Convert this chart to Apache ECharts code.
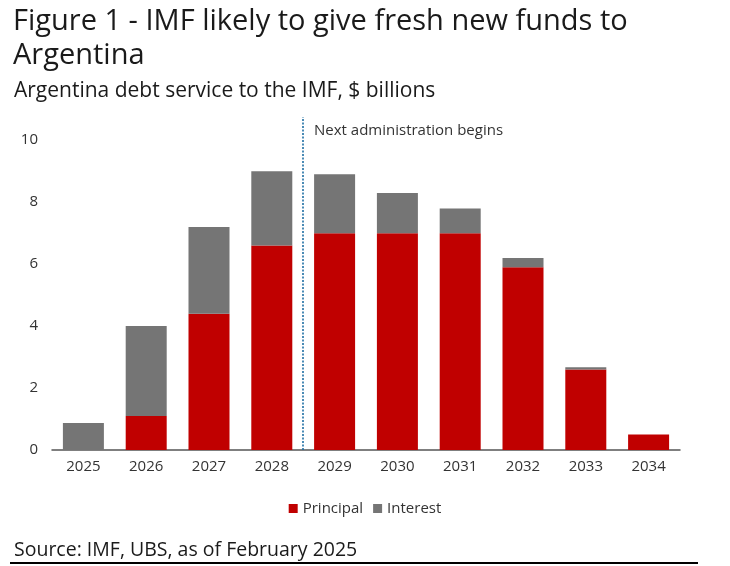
<!DOCTYPE html>
<html>
<head>
<meta charset="utf-8">
<script src="https://cdn.jsdelivr.net/npm/echarts@6/dist/echarts.min.js"></script>
<style>
  html, body { margin: 0; padding: 0; background: #fff; }
  #main { width: 730px; height: 566px; }
</style>
</head>
<body>
<div id="main"></div>
<script>
var years = ['2025', '2026', '2027', '2028', '2029', '2030', '2031', '2032', '2033', '2034'];
var principal = [0, 1.1, 4.4, 6.6, 7.0, 7.0, 7.0, 5.9, 2.6, 0.5];
var interest = [0.87, 2.9, 2.8, 2.4, 1.9, 1.3, 0.8, 0.3, 0.07, 0];
var yTicks = [0, 2, 4, 6, 8, 10];
// boundary between 2028 and 2029, counted in category slots
var adminStart = 4;

var fontFam = '"Open Sans", "Noto Sans", sans-serif';

var myChart = echarts.init(document.getElementById('main'));
var option = {
	animation: false,
	backgroundColor: '#ffffff',
	title: [{
		text: 'Figure 1 - IMF likely to give fresh new funds to\nArgentina',
		left: 8,
		top: 0,
		textStyle: {
			fontFamily: fontFam,
			fontSize: 29,
			fontWeight: 'normal',
			color: '#1a1a1a',
			lineHeight: 34
		}
	}, {
		text: 'Argentina debt service to the IMF, $ billions',
		left: 9,
		top: 76,
		textStyle: {
			fontFamily: fontFam,
			fontSize: 21,
			fontWeight: 'normal',
			color: '#1a1a1a'
		}
	}, {
		text: 'Next administration begins',
		left: 309,
		top: 118,
		textStyle: {
			fontFamily: fontFam,
			fontSize: 15,
			fontWeight: 'normal',
			color: '#333333'
		}
	}, {
		text: 'Source: IMF, UBS, as of February 2025',
		left: 9,
		top: 535,
		textStyle: {
			fontFamily: fontFam,
			fontSize: 19.5,
			fontWeight: 'normal',
			color: '#1a1a1a'
		}
	}],
	graphic: [{
		type: 'line',
		shape: { x1: 10, y1: 563, x2: 698, y2: 563 },
		style: { stroke: '#000000', lineWidth: 2 }
	}],
	legend: {
		data: ['Principal', 'Interest'],
		left: 'center',
		top: 496,
		icon: 'rect',
		itemWidth: 9,
		itemHeight: 9,
		itemGap: 10,
		textStyle: {
			fontFamily: fontFam,
			fontSize: 15,
			color: '#333333'
		}
	},
	grid: {
		left: 52,
		right: 50,
		top: 117,
		bottom: 116,
		containLabel: false
	},
	xAxis: [{
		type: 'category',
		data: years,
		axisLine: { lineStyle: { color: '#555555', width: 1.5 } },
		axisTick: { show: false },
		axisLabel: {
			fontFamily: fontFam,
			fontSize: 15,
			color: '#333333',
			margin: 9
		}
	}, {
		type: 'value',
		min: 0,
		max: years.length,
		show: false
	}],
	yAxis: {
		type: 'value',
		min: 0,
		max: 10.75,
		interval: 2,
		splitLine: { show: false },
		axisLine: { show: false },
		axisTick: { show: false },
		axisLabel: {
			fontFamily: fontFam,
			fontSize: 15,
			color: '#333333',
			margin: 14,
			showMaxLabel: false,
			formatter: function (v) { return yTicks.indexOf(v) >= 0 ? v : ''; }
		}
	},
	series: [{
		name: 'Principal',
		type: 'bar',
		stack: 'total',
		barWidth: 41,
		data: principal,
		itemStyle: { color: '#c00000' }
	}, {
		name: 'Interest',
		type: 'bar',
		stack: 'total',
		barWidth: 41,
		data: interest,
		itemStyle: { color: '#757575' }
	}, {
		name: 'divider',
		type: 'line',
		xAxisIndex: 1,
		data: [],
		silent: true,
		markLine: {
			silent: true,
			symbol: 'none',
			label: { show: false },
			lineStyle: { color: '#1f6fa3', type: [2, 1.5], width: 1.6 },
			data: [[{ xAxis: adminStart, yAxis: 0 }, { xAxis: adminStart, yAxis: 10.75 }]]
		}
	}]
};
myChart.setOption(option);
</script>
</body>
</html>
